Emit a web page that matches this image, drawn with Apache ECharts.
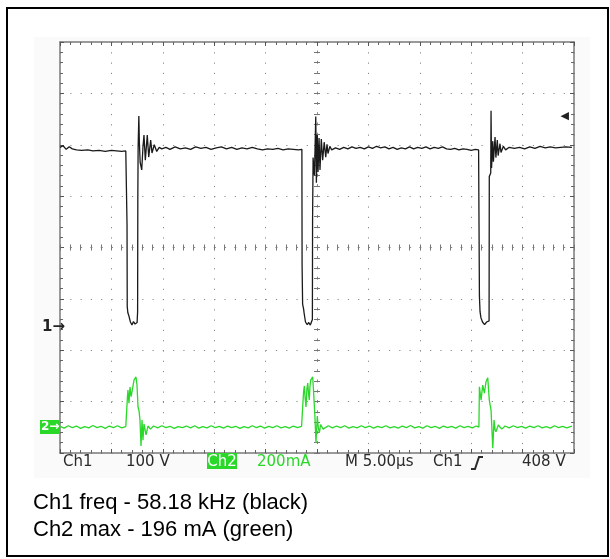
<!DOCTYPE html>
<html><head><meta charset="utf-8">
<script src="https://cdn.jsdelivr.net/npm/echarts@6/dist/echarts.min.js"></script>
<style>html,body{margin:0;padding:0;background:#fff}#c{width:610px;height:559px}</style>
</head><body><div id="c"></div><script>
// Time axis: 10 divisions at 5 µs/div, trigger at centre
const timeRange = [-25, 25];
const timeStep = 5;
// Ch1: 100 V/div, ground marker at 2.45 div from bottom
const ch1Range = [-245, 555];
// Ch2: 200 mA/div, ground marker at 0.506 div from bottom
const ch2Range = [-101, 1499];
// Graticule divisions (vertical), centred on zero
const divRange = [-4, 4];

// Ch1 trace [time µs, volts]
const ch1Trace = [
[-25.0,350],[-24.7,353],[-24.4,346],[-24.1,351],[-23.8,347],[-23.4,345],[-22.9,344],[-22.3,345],[-21.8,343],[-21.2,344],[-20.6,342],[-20.0,344],[-19.5,343],[-19.0,342],[-18.6,343],[-18.5,341],
[-18.48,200],[-18.46,40],[-18.40,28],[-18.30,22],[-18.15,10],[-18.0,4],[-17.85,11],[-17.70,6],[-17.50,9],[-17.45,30],[-17.43,250],[-17.40,350],[-17.33,411],[-17.28,360],[-17.20,320],[-17.05,306],[-16.93,350],[-16.83,374],[-16.70,325],[-16.51,374],[-16.37,331],[-16.18,364],[-16.05,339],[-15.83,355],[-15.59,342],[-15.35,350],[-15.1,347],[-14.7,350],[-14.3,346],[-13.8,351],[-13.3,347],[-12.8,349],[-12.3,346],[-11.8,351],[-11.3,348],[-10.8,350],[-10.3,346],[-9.8,349],[-9.3,351],[-8.8,347],[-8.3,350],[-7.8,346],[-7.3,349],[-6.8,347],[-6.3,350],[-5.8,347],[-5.3,345],[-4.8,347],[-4.3,346],[-3.8,348],[-3.3,345],[-2.8,347],[-2.3,346],[-1.8,345],[-1.47,346],
[-1.45,120],[-1.40,45],[-1.30,35],[-1.26,28],[-1.12,10],[-0.95,5],[-0.80,9],[-0.65,4],[-0.50,7],[-0.45,15],[-0.43,210],[-0.38,330],[-0.25,295],[-0.12,410],[-0.06,281],[0.03,374],[0.10,302],[0.20,368],[0.29,306],[0.42,366],[0.55,325],[0.70,360],[0.85,331],[0.97,356],[1.07,338],[1.25,352],[1.43,345],[1.8,349],[2.2,346],[2.6,350],[3.0,347],[3.4,351],[3.8,348],[4.2,350],[4.6,347],[5.0,351],[5.4,348],[5.8,352],[6.2,349],[6.6,351],[7.0,347],[7.4,350],[7.8,346],[8.2,349],[8.6,347],[9.0,351],[9.4,347],[9.8,350],[10.2,348],[10.6,351],[11.0,347],[11.4,350],[11.8,348],[12.2,351],[12.6,347],[13.0,346],[13.4,348],[13.8,345],[14.2,347],[14.6,346],[15.0,344],[15.4,346],[15.72,345],
[15.76,200],[15.80,60],[15.86,30],[15.95,18],[16.10,10],[16.30,5],[16.50,10],[16.65,7],[16.74,12],[16.76,293],[16.90,300],[16.93,421],[16.98,310],[17.10,362],[17.16,322],[17.32,370],[17.40,330],[17.54,364],[17.62,334],[17.80,357],[17.90,340],[18.13,352],[18.35,345],[18.7,350],[19.2,348],[19.7,350],[20.2,347],[20.7,351],[21.2,348],[21.7,352],[22.2,349],[22.7,351],[23.2,349],[23.7,350],[24.2,351],[24.8,350]
];

// Ch2 trace [time µs, mA]
const ch2Trace = [
[-25.0,3],[-24.6,-4],[-24.2,5],[-23.8,-2],[-23.4,4],[-23.0,-5],[-22.6,2],[-22.2,-3],[-21.8,6],[-21.4,-2],[-21.0,3],[-20.6,-5],[-20.2,4],[-19.8,-2],[-19.4,5],[-19.0,-3],[-18.6,2],
[-18.52,60],[-18.45,110],[-18.39,144],[-18.29,93],[-18.19,156],[-18.08,118],[-18.0,125],[-17.80,183],[-17.61,195],[-17.51,164],[-17.41,78],[-17.30,60],[-17.22,27],[-17.12,-74],[-17.02,27],[-16.93,-51],[-16.83,12],[-16.73,9],[-16.63,-30],[-16.44,4],[-16.2,-8],[-15.9,4],[-15.5,-3],[-15.1,5],[-14.7,-2],[-14.3,3],[-13.9,-5],[-13.5,2],[-13.1,-2],[-12.7,4],[-12.3,-3],[-11.9,5],[-11.5,-4],[-11.1,2],[-10.7,-3],[-10.3,5],[-9.9,-2],[-9.5,3],[-9.1,-4],[-8.7,4],[-8.3,-2],[-7.9,3],[-7.5,-5],[-7.1,2],[-6.7,-3],[-6.3,5],[-5.9,-2],[-5.5,4],[-5.1,-4],[-4.7,3],[-4.3,-2],[-3.9,5],[-3.5,-3],[-3.1,2],[-2.7,-4],[-2.3,4],[-1.9,-2],[-1.5,3],
[-1.40,74],[-1.30,140],[-1.23,160],[-1.15,110],[-1.07,78],[-0.98,150],[-0.90,171],[-0.82,130],[-0.75,105],[-0.68,160],[-0.61,183],[-0.42,195],[-0.35,150],[-0.29,105],[-0.20,40],[-0.10,-62],[0.03,43],[0.12,0],[0.23,-23],[0.35,10],[0.46,16],[0.60,-8],[0.78,-4],[1.1,5],[1.5,-3],[1.9,4],[2.3,-2],[2.7,5],[3.1,-4],[3.5,2],[3.9,-3],[4.3,5],[4.7,-2],[5.1,4],[5.5,-4],[5.9,3],[6.3,-2],[6.7,5],[7.1,-3],[7.5,2],[7.9,-4],[8.3,4],[8.7,-2],[9.1,6],[9.5,-3],[9.9,2],[10.3,-4],[10.7,5],[11.1,-2],[11.5,3],[11.9,-5],[12.3,4],[12.7,-2],[13.1,3],[13.5,-4],[13.9,5],[14.3,-2],[14.7,3],[15.1,-3],[15.5,4],[15.75,0],
[15.80,157],[15.96,105],[16.12,163],[16.28,132],[16.44,176],[16.61,192],[16.68,150],[16.76,105],[16.93,66],[17.10,-82],[17.22,27],[17.32,-10],[17.41,-18],[17.64,8],[17.97,-8],[18.3,4],[18.7,-3],[19.1,5],[19.5,-2],[19.9,3],[20.3,-4],[20.7,4],[21.1,-2],[21.5,5],[21.9,-3],[22.3,2],[22.7,-4],[23.1,5],[23.5,-2],[23.9,3],[24.3,-3],[24.8,4]
];

// Scope readout texts
const readoutCh1 = ['Ch1', '100 V'];
const readoutCh2 = ['Ch2', '200mA'];
const readoutTime = 'M 5.00\u00b5s';
const readoutTrig = ['Ch1', '408 V'];
const captionLines = ['Ch1 freq - 58.18 kHz (black)', 'Ch2 max - 196 mA (green)'];

const GREEN = '#2ad82a';
const dot = {color:'#8a8a8a', width:1, type:[1.2, 9.08], dashOffset:0};
const borderLine = {show:true, onZero:false, lineStyle:{color:'#7a7a7a', width:1.5}};
const tick = (inside) => ({show:true, inside:inside, length:4, lineStyle:{color:'#555', width:1}});
const minor = (inside) => ({show:true, splitNumber:5, length:3, lineStyle:{color:'#666', width:1}});
const scopeFont = '15px "DejaVu Sans"';

function xa(extra){
  return Object.assign({type:'value', gridIndex:0, min:timeRange[0], max:timeRange[1], interval:timeStep,
    axisLabel:{show:false}, splitLine:{show:false}}, extra);
}
function ya(extra){
  return Object.assign({type:'value', gridIndex:0, min:divRange[0], max:divRange[1], interval:1,
    axisLabel:{show:false}, splitLine:{show:false}}, extra);
}

const chart = echarts.init(document.getElementById('c'), null, {renderer:'canvas'});
chart.setOption({
  animation:false,
  backgroundColor:'#ffffff',
  grid:{left:60, top:42, width:514, height:411, show:true, backgroundColor:'#ffffff', borderWidth:0},
  xAxis:[
    xa({position:'bottom', axisLine:borderLine, axisTick:tick(true), minorTick:minor(true), splitLine:{show:true, lineStyle:dot}}),
    xa({position:'top', axisLine:borderLine, axisTick:tick(true), minorTick:minor(true)}),
    xa({axisLine:{show:true, onZero:true, onZeroAxisIndex:0, lineStyle:{color:'#8a8a8a', width:1, type:[1.2,9.08]}}, axisTick:{show:true, inside:true, length:3, lineStyle:{color:'#777'}}, minorTick:{show:true, splitNumber:5, length:3, lineStyle:{color:'#777'}}}),
    xa({axisLine:{show:false, onZero:true, onZeroAxisIndex:0}, axisTick:{show:true, inside:false, length:3, lineStyle:{color:'#777'}}, minorTick:{show:true, splitNumber:5, length:3, lineStyle:{color:'#777'}}})
  ],
  yAxis:[
    ya({position:'left', axisLine:borderLine, axisTick:tick(true), minorTick:minor(true), splitLine:{show:true, lineStyle:dot}}),
    ya({position:'right', axisLine:borderLine, axisTick:tick(true), minorTick:minor(true)}),
    ya({axisLine:{show:true, onZero:true, onZeroAxisIndex:0, lineStyle:{color:'#8a8a8a', width:1, type:[1.2,9.08]}}, axisTick:{show:true, inside:true, length:3, lineStyle:{color:'#777'}}, minorTick:{show:true, splitNumber:5, length:3, lineStyle:{color:'#777'}}}),
    ya({axisLine:{show:false, onZero:true, onZeroAxisIndex:0}, axisTick:{show:true, inside:false, length:3, lineStyle:{color:'#777'}}, minorTick:{show:true, splitNumber:5, length:3, lineStyle:{color:'#777'}}}),
    {type:'value', gridIndex:0, show:false, min:ch1Range[0], max:ch1Range[1]},
    {type:'value', gridIndex:0, show:false, min:ch2Range[0], max:ch2Range[1]}
  ],
  series:[
    {name:'Ch1', type:'line', xAxisIndex:0, yAxisIndex:4, data:ch1Trace, showSymbol:false, symbol:'none',
     lineStyle:{color:'#1a1a1a', width:1.3}, z:4, clip:true},
    {name:'Ch2', type:'line', xAxisIndex:0, yAxisIndex:5, data:ch2Trace, showSymbol:false, symbol:'none',
     lineStyle:{color:GREEN, width:1.3}, z:3, clip:false}
  ],
  graphic:[
    {type:'rect', z:-10, silent:true, shape:{x:34, y:37, width:556, height:441}, style:{fill:'#fafafa'}},
    {type:'rect', z:100, silent:true, shape:{x:7, y:8, width:601, height:548}, style:{fill:'none', stroke:'#000', lineWidth:2}},
    // readout line
    {type:'text', z:100, x:63, y:462, style:{text:readoutCh1[0], font:scopeFont, fill:'#2b2b2b', verticalAlign:'middle'}},
    {type:'text', z:100, x:126, y:462, style:{text:readoutCh1[1], font:scopeFont, fill:'#2b2b2b', verticalAlign:'middle'}},
    {type:'rect', z:100, shape:{x:207, y:453, width:30, height:16}, style:{fill:GREEN}},
    {type:'text', z:101, x:222, y:462, style:{text:readoutCh2[0], font:scopeFont, fill:'#ffffff', align:'center', verticalAlign:'middle'}},
    {type:'text', z:100, x:257, y:462, style:{text:readoutCh2[1], font:scopeFont, fill:GREEN, verticalAlign:'middle'}},
    {type:'text', z:100, x:345, y:462, style:{text:readoutTime, font:scopeFont, fill:'#2b2b2b', verticalAlign:'middle'}},
    {type:'text', z:100, x:433, y:462, style:{text:readoutTrig[0], font:scopeFont, fill:'#2b2b2b', verticalAlign:'middle'}},
    {type:'polyline', z:100, shape:{points:[[471,469],[475,469],[479,457],[483,457]]}, style:{stroke:'#2b2b2b', lineWidth:2, fill:'none'}},
    {type:'text', z:100, x:522, y:462, style:{text:readoutTrig[1], font:scopeFont, fill:'#2b2b2b', verticalAlign:'middle'}},
    // channel markers
    {type:'text', z:100, x:42, y:327, style:{text:'1\u2192', font:'bold 15px "DejaVu Sans"', fill:'#222', verticalAlign:'middle'}},
    {type:'rect', z:100, shape:{x:40, y:420, width:20, height:14}, style:{fill:GREEN}},
    {type:'text', z:101, x:41, y:427, style:{text:'2\u2192', font:'bold 12px "DejaVu Sans"', fill:'#ffffff', verticalAlign:'middle'}},
    {type:'text', z:100, x:569, y:116, style:{text:'\u25c0', font:'11px "DejaVu Sans"', fill:'#222', align:'right', verticalAlign:'middle'}},
    // caption
    {type:'text', z:100, x:33, y:503, style:{text:captionLines[0], font:'22px "Liberation Sans"', fill:'#000', verticalAlign:'middle'}},
    {type:'text', z:100, x:33, y:530, style:{text:captionLines[1], font:'22px "Liberation Sans"', fill:'#000', verticalAlign:'middle'}}
  ]
});
</script></body></html>
